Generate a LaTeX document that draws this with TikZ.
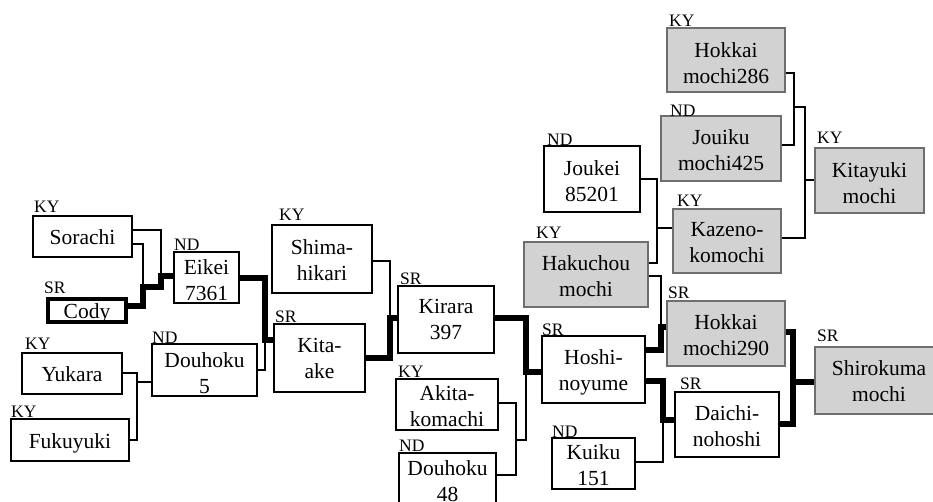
\documentclass[tikz,border=0pt]{standalone}
\usepackage{fontspec}
\setmainfont{Liberation Serif}
\usetikzlibrary{calc}
\definecolor{boxgray}{RGB}{210,210,210}
\definecolor{edgegray}{RGB}{110,110,110}
\begin{document}
\begin{tikzpicture}[x=1pt,y=-1pt,
  box/.style={draw=black, line width=1.3pt, fill=white, inner sep=0pt},
  gbox/.style={draw=edgegray, line width=1.3pt, fill=boxgray, inner sep=0pt},
  txt/.style={font=\fontsize{21.5}{26}\selectfont, align=center, inner sep=0pt},
  cat/.style={font=\fontsize{17.5}{20}\selectfont, anchor=base west, inner sep=0pt},
  thinln/.style={line width=1.3pt},
  thickln/.style={line width=5.5pt},
]
\useasboundingbox (0,0) rectangle (933,501);
\clip (0,0) rectangle (933,501);

% ---------- boxes ----------
\node[box, minimum width=99pt, minimum height=41pt, label={[txt,yshift=-1pt]center:Sorachi}] (sorachi) at (82.5,236.5) {};
\node[box, line width=4.5pt, minimum width=78pt, minimum height=23pt, label={[txt,yshift=-3pt]center:Cody}] (cody) at (87,310.5) {};
\node[box, minimum width=65pt, minimum height=51pt, label={[txt,yshift=-2.4pt]center:{Eikei\\7361}}] (eikei) at (206.5,277.5) {};
\node[box, minimum width=105pt, minimum height=52pt, label={[txt,yshift=-3pt]center:{Douhoku\\5}}] (douhoku5) at (204.5,370) {};
\node[box, minimum width=100pt, minimum height=41pt, label={[txt,yshift=-1pt]center:Yukara}] (yukara) at (72,373.5) {};
\node[box, minimum width=118pt, minimum height=42pt, label={[txt,yshift=-3pt]center:Fukuyuki}] (fukuyuki) at (70,440) {};
\node[box, minimum width=100pt, minimum height=68pt, label={[txt,yshift=-1.5pt]center:{Shima-\\hikari}}] (shima) at (322,259) {};
\node[box, minimum width=91pt, minimum height=68pt, label={[txt]center:{Kita-\\ake}}] (kitaake) at (319.5,358) {};
\node[box, minimum width=96pt, minimum height=67pt, label={[txt]center:{Kirara\\397}}] (kirara) at (446,319.5) {};
\node[box, minimum width=102pt, minimum height=51pt, label={[txt,yshift=-2pt]center:{Akita-\\komachi}}] (akita) at (447,404.5) {};
\node[box, minimum width=97pt, minimum height=56pt, label={[txt]center:{Douhoku\\48}}] (douhoku48) at (447.5,481) {};
\node[box, minimum width=103pt, minimum height=67pt, label={[txt,yshift=-2.7pt]center:{Hoshi-\\noyume}}] (hoshi) at (593.5,369.5) {};
\node[box, minimum width=83pt, minimum height=51pt, label={[txt,yshift=-1.3pt]center:{Kuiku\\151}}] (kuiku) at (593.5,463.5) {};
\node[box, minimum width=96pt, minimum height=66pt, label={[txt,yshift=-2.5pt]center:{Joukei\\85201}}] (joukei) at (592,179) {};
\node[gbox, minimum width=124pt, minimum height=65pt, label={[txt,yshift=-2pt]center:{Hakuchou\\mochi}}] (hakuchou) at (586,274.5) {};
\node[gbox, minimum width=118pt, minimum height=64pt, label={[txt,yshift=-3pt]center:{Hokkai\\mochi286}}] (hokkai286) at (726,60) {};
\node[gbox, minimum width=120pt, minimum height=65pt, label={[txt,yshift=-1.3pt]center:{Jouiku\\mochi425}}] (jouiku) at (721,148.5) {};
\node[gbox, minimum width=108pt, minimum height=64pt, label={[txt,yshift=-2pt]center:{Kazeno-\\komochi}}] (kazeno) at (727,241) {};
\node[gbox, minimum width=109pt, minimum height=65pt, label={[txt,yshift=-2.7pt]center:{Kitayuki\\mochi}}] (kitayuki) at (869.5,180.5) {};
\node[gbox, minimum width=118pt, minimum height=65pt, label={[txt,yshift=-1.3pt]center:{Hokkai\\mochi290}}] (hokkai290) at (726,333.5) {};
\node[box, minimum width=104pt, minimum height=65pt, label={[txt,yshift=-2pt]center:{Daichi-\\nohoshi}}] (daichi) at (727,424.5) {};
\node[gbox, minimum width=128pt, minimum height=67pt, label={[txt,yshift=-1pt]center:{Shirokuma\\mochi}}] (shirokuma) at (879,380.5) {};

% ---------- junction points ----------
\coordinate (jA) at (161,276);
\coordinate (jB) at (143,287);
\coordinate (jC) at (265,340);
\coordinate (jD) at (137,440);
\coordinate (jE) at (137,382);
\coordinate (jF) at (390,318);
\coordinate (jG) at (526,372);
\coordinate (jH) at (516,475);
\coordinate (jI) at (516,440);
\coordinate (jJ) at (657,263);
\coordinate (jK) at (657,228);
\coordinate (jL) at (661,327);
\coordinate (jM) at (663,420);
\coordinate (jN) at (794,145);
\coordinate (jO) at (794,107);
\coordinate (jP) at (805,238);
\coordinate (jQ) at (805,180);
\coordinate (jR) at (793,424);
\coordinate (jS) at (793,382);

% ---------- connectors ----------
\draw[thinln] ([yshift=6.5pt]sorachi.east) -| (jA);
\draw[thinln] ([yshift=-7.5pt]sorachi.east) -| (jB);
\draw[thickln] ([yshift=4.5pt]cody.east) -| (jB) -| (jA) -- (jA -| eikei.west);
\draw[thickln] ([yshift=-0.5pt]eikei.east) -| (jC) -- (jC -| kitaake.west);
\draw[thinln] (douhoku5.east) -| (jC);
\draw[thinln] ([yshift=0.5pt]yukara.east) -| (jD) -- (jD -| fukuyuki.east);
\draw[thinln] (jE) -- (jE -| douhoku5.west);

\draw[thinln] ([yshift=-2pt]shima.east) -| (jF);
\draw[thickln] (kitaake.east) -| (jF) -- (jF -| kirara.west);
\draw[thickln] ([yshift=1.5pt]kirara.east) -| (jG) -- (jG -| hoshi.west);
\draw[thinln] ([yshift=1.5pt]akita.east) -| (jH) -- (jH -| douhoku48.east);
\draw[thinln] (jG) |- (jI);

\draw[thinln] (joukei.east) -| (jJ) -- (jJ -| hakuchou.east);
\draw[thinln] (jK) -- (jK -| kazeno.west);
\draw[thinln] ([yshift=-1.5pt]hakuchou.east) -| (jL);
\draw[thickln] ([yshift=19.5pt]hoshi.east) -| (jL) -- (jL -| hokkai290.west);
\draw[thickln] ([yshift=-11.5pt]hoshi.east) -| (jM) -- (jM -| daichi.west);
\draw[thinln] ([yshift=1.5pt]kuiku.east) -| (jM);

\draw[thinln] ([yshift=-13pt]hokkai286.east) -| (jN) -- (jN -| jouiku.east);
\draw[thinln] (jO) -| (jP) -- (jP -| kazeno.east);
\draw[thinln] (jQ) -- (jQ -| kitayuki.west);
\draw[thickln] ([yshift=1.5pt]hokkai290.east) -| (jR) -- (jR -| daichi.east);
\draw[thickln] (jS) -- (jS -| shirokuma.west);

% redraw box borders over connector ends
% ---------- category labels ----------
\node[cat] (c-sorachi) at (34,212) {KY};
\node[cat] (c-cody) at (44,293) {SR};
\node[cat] (c-eikei) at (174,250) {ND};
\node[cat] (c-douhoku5) at (152,343) {ND};
\node[cat] (c-yukara) at (25,349) {KY};
\node[cat] (c-fukuyuki) at (11,417) {KY};
\node[cat] (c-shima) at (279,220) {KY};
\node[cat] (c-kitaake) at (275,322) {SR};
\node[cat] (c-kirara) at (400,284) {SR};
\node[cat] (c-akita) at (398,377) {KY};
\node[cat] (c-douhoku48) at (399,451) {ND};
\node[cat] (c-hoshi) at (542,335) {SR};
\node[cat] (c-kuiku) at (552,437) {ND};
\node[cat] (c-joukei) at (547,145) {ND};
\node[cat] (c-hakuchou) at (536,238) {KY};
\node[cat] (c-hokkai286) at (669,26) {KY};
\node[cat] (c-jouiku) at (670,116) {ND};
\node[cat] (c-kazeno) at (677,206) {KY};
\node[cat] (c-kitayuki) at (817,143) {KY};
\node[cat] (c-hokkai290) at (668,298) {SR};
\node[cat] (c-daichi) at (680,389) {SR};
\node[cat] (c-shirokuma) at (817,341) {SR};
\end{tikzpicture}
\end{document}
